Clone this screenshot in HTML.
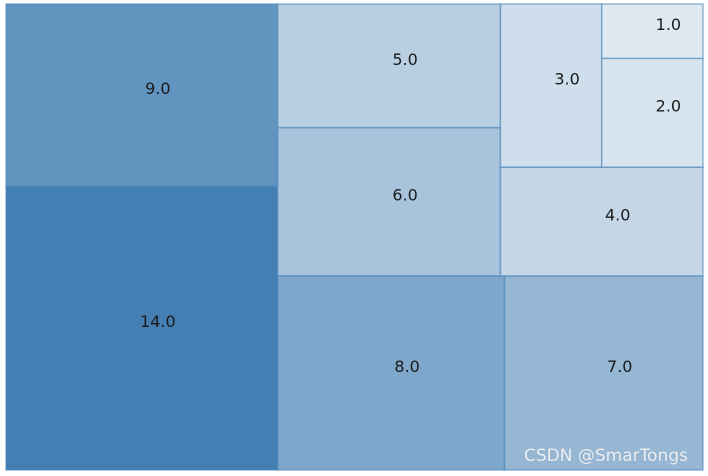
<!DOCTYPE html>
<html><head><meta charset="utf-8"><style>
html,body{margin:0;padding:0;background:#fff;width:708px;height:476px;overflow:hidden}
svg{display:block}
.lbl{font-family:"DejaVu Sans","Liberation Sans",sans-serif;font-size:16px;fill:#1a1a1a}
</style></head><body>
<svg id="chart" width="708" height="476" viewBox="0 0 708 476">
<g id="rects"></g>
<text x="606" y="461" text-anchor="middle" style="font-family:'DejaVu Sans','Liberation Sans',sans-serif;font-size:17px;fill:#eef2f6;stroke:#8a9aab;stroke-width:0.4;paint-order:stroke">CSDN @SmarTongs</text>
</svg>
<script>
const values = [14, 9, 8, 7, 6, 5, 4, 3, 2, 1];
const labels = ["14.0", "9.0", "8.0", "7.0", "6.0", "5.0", "4.0", "3.0", "2.0", "1.0"];

const X0 = 6, Y0 = 4, W = 697, H = 466;
function worst(sizes, x, y, dx, dy) {
  const r = layout(sizes, x, y, dx, dy);
  return Math.max(...r.map(q => Math.max(q.dx / q.dy, q.dy / q.dx)));
}
function layoutcol(s, x, y, dx, dy) {
  const cov = s.reduce((a, b) => a + b, 0), w = cov / dy; let out = [], yy = y;
  for (const v of s) { out.push({x: x, y: yy, dx: w, dy: v / w}); yy += v / w; } return out;
}
function layoutrow(s, x, y, dx, dy) {
  const cov = s.reduce((a, b) => a + b, 0), h = cov / dx; let out = [], xx = x;
  for (const v of s) { out.push({x: xx, y: y, dx: v / h, dy: h}); xx += v / h; } return out;
}
function layout(s, x, y, dx, dy) { return dx >= dy ? layoutcol(s, x, y, dx, dy) : layoutrow(s, x, y, dx, dy); }
function leftover(s, x, y, dx, dy) {
  const cov = s.reduce((a, b) => a + b, 0);
  if (dx >= dy) { const w = cov / dy; return [x + w, y, dx - w, dy]; }
  const h = cov / dx; return [x, y + h, dx, dy - h];
}
function squarify(s, x, y, dx, dy) {
  if (s.length === 0) return [];
  if (s.length === 1) return layout(s, x, y, dx, dy);
  let i = 1;
  while (i < s.length && worst(s.slice(0, i), x, y, dx, dy) >= worst(s.slice(0, i + 1), x, y, dx, dy)) i++;
  const cur = s.slice(0, i), rem = s.slice(i);
  const [lx, ly, ldx, ldy] = leftover(cur, x, y, dx, dy);
  return layout(cur, x, y, dx, dy).concat(squarify(rem, lx, ly, ldx, ldy));
}
const total = values.reduce((a, b) => a + b, 0);
const norm = values.map(v => v * W * H / total);
const rects = squarify(norm, 0, 0, W, H);
const g = document.getElementById('rects');
const NS = 'http://www.w3.org/2000/svg';
rects.forEach((r, i) => {
  const v = values[i];
  const a = Math.min(1, 0.14 * Math.pow(1.22, v));
  const cr = Math.round(255 - (255 - 67) * a), cg = Math.round(255 - (255 - 127) * a), cb = Math.round(255 - (255 - 179) * a);
  const sx = X0 + r.x, sy = Y0 + H - r.y - r.dy;
  const rect = document.createElementNS(NS, 'rect');
  
  
  rect.setAttribute('x', sx); rect.setAttribute('y', sy);
  rect.setAttribute('width', r.dx); rect.setAttribute('height', r.dy);
  rect.setAttribute('fill', `rgb(${cr},${cg},${cb})`);
  rect.setAttribute('stroke', 'rgba(70,130,180,0.55)');
  rect.setAttribute('stroke-width', '1.5');
  g.appendChild(rect);
  const t = document.createElementNS(NS, 'text');
  
  
  t.setAttribute('class', 'lbl');
  t.setAttribute('x', sx + r.dx / 2 + 16); t.setAttribute('y', sy + r.dy / 2 - 1);
  t.setAttribute('text-anchor', 'middle');
  t.textContent = labels[i];
  g.appendChild(t);
});
</script>
</body></html>
